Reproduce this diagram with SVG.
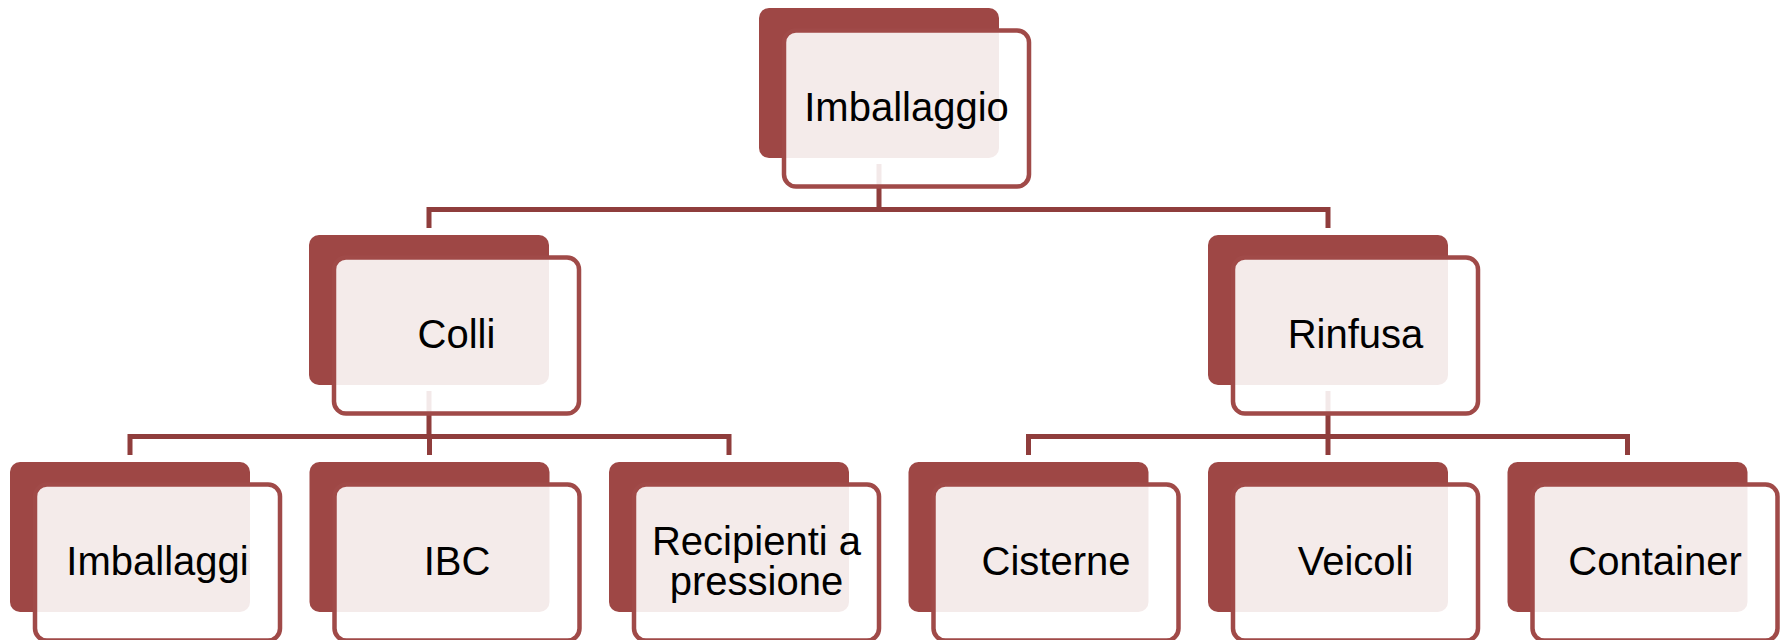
<svg xmlns="http://www.w3.org/2000/svg" width="1783" height="640" viewBox="0 0 1783 640">
<style>
.back{fill:#9E4745;}
.front{fill:#FFFFFF;fill-opacity:0.89;stroke:#A04A48;stroke-width:4.5;}
.conn{fill:none;stroke:#8F3D3C;stroke-width:5;stroke-linejoin:miter;}
.lbl{font-family:"Liberation Sans",Arial,sans-serif;font-size:40px;fill:#000;text-anchor:middle;}
</style>
<g id="connectors">
<path class="conn" d="M879,164 V209.5 M429,228 V209.5 H1328 V228"/>
<path class="conn" d="M429,391 V436.5 M130,455 V436.5 H729 V455 M429.5,436.5 V455"/>
<path class="conn" d="M1328,391 V436.5 M1028.5,455 V436.5 H1627.5 V455 M1328,436.5 V455"/>
</g>
<g id="n-imballaggio">
<rect class="back" x="759" y="8" width="240" height="150" rx="10"/>
<rect class="front" x="784" y="30.5" width="245" height="156" rx="12"/>
<text class="lbl" x="906.5" y="121">Imballaggio</text>
</g>
<g id="n-colli">
<rect class="back" x="309" y="235" width="240" height="150" rx="10"/>
<rect class="front" x="334" y="257.5" width="245" height="156" rx="12"/>
<text class="lbl" x="456.5" y="348">Colli</text>
</g>
<g id="n-rinfusa">
<rect class="back" x="1208" y="235" width="240" height="150" rx="10"/>
<rect class="front" x="1233" y="257.5" width="245" height="156" rx="12"/>
<text class="lbl" x="1355.5" y="348">Rinfusa</text>
</g>
<g id="n-imballaggi">
<rect class="back" x="10" y="462" width="240" height="150" rx="10"/>
<rect class="front" x="35" y="484.5" width="245" height="156" rx="12"/>
<text class="lbl" x="157.5" y="575">Imballaggi</text>
</g>
<g id="n-ibc">
<rect class="back" x="309.5" y="462" width="240" height="150" rx="10"/>
<rect class="front" x="334.5" y="484.5" width="245" height="156" rx="12"/>
<text class="lbl" x="457" y="575">IBC</text>
</g>
<g id="n-recipienti">
<rect class="back" x="609" y="462" width="240" height="150" rx="10"/>
<rect class="front" x="634" y="484.5" width="245" height="156" rx="12"/>
<text class="lbl" x="756.5" y="555">Recipienti a</text>
<text class="lbl" x="756.5" y="595">pressione</text>
</g>
<g id="n-cisterne">
<rect class="back" x="908.5" y="462" width="240" height="150" rx="10"/>
<rect class="front" x="933.5" y="484.5" width="245" height="156" rx="12"/>
<text class="lbl" x="1056" y="575">Cisterne</text>
</g>
<g id="n-veicoli">
<rect class="back" x="1208" y="462" width="240" height="150" rx="10"/>
<rect class="front" x="1233" y="484.5" width="245" height="156" rx="12"/>
<text class="lbl" x="1355.5" y="575">Veicoli</text>
</g>
<g id="n-container">
<rect class="back" x="1507.5" y="462" width="240" height="150" rx="10"/>
<rect class="front" x="1532.5" y="484.5" width="245" height="156" rx="12"/>
<text class="lbl" x="1655" y="575">Container</text>
</g>
</svg>
